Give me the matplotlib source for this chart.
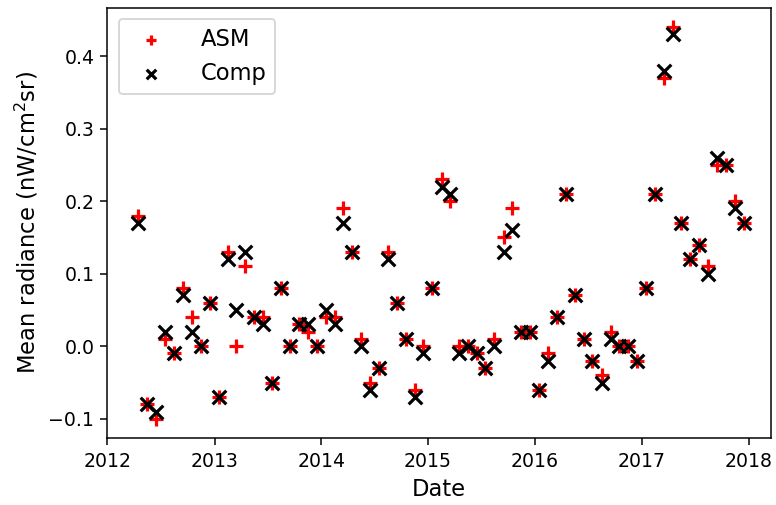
import matplotlib
matplotlib.use("Agg")
import matplotlib.pyplot as plt
import matplotlib.dates as mdates
import numpy as np
import pandas as pd

# Monthly dates Apr 2012 - Dec 2017 (mid-month)
dates = pd.date_range("2012-04-01", "2017-12-01", freq="MS") + pd.Timedelta(days=15)

asm = [0.18, -0.08, -0.10, 0.01, -0.01, 0.08, 0.04, 0.00, 0.06,
       -0.07, 0.13, 0.00, 0.11, 0.04, 0.04, -0.05, 0.08, 0.00, 0.03, 0.02, 0.00,
       0.04, 0.04, 0.19, 0.13, 0.01, -0.05, -0.03, 0.13, 0.06, 0.01, -0.06, 0.00,
       0.08, 0.23, 0.20, 0.00, 0.00, -0.01, -0.03, 0.01, 0.15, 0.19, 0.02, 0.02,
       -0.06, -0.01, 0.04, 0.21, 0.07, 0.01, -0.02, -0.04, 0.02, 0.00, 0.00, -0.02,
       0.08, 0.21, 0.37, 0.44, 0.17, 0.12, 0.14, 0.11, 0.25, 0.25, 0.20, 0.17]

comp = [0.17, -0.08, -0.09, 0.02, -0.01, 0.07, 0.02, 0.00, 0.06,
        -0.07, 0.12, 0.05, 0.13, 0.04, 0.03, -0.05, 0.08, 0.00, 0.03, 0.03, 0.00,
        0.05, 0.03, 0.17, 0.13, 0.00, -0.06, -0.03, 0.12, 0.06, 0.01, -0.07, -0.01,
        0.08, 0.22, 0.21, -0.01, 0.00, -0.01, -0.03, 0.00, 0.13, 0.16, 0.02, 0.02,
        -0.06, -0.02, 0.04, 0.21, 0.07, 0.01, -0.02, -0.05, 0.01, 0.00, 0.00, -0.02,
        0.08, 0.21, 0.38, 0.43, 0.17, 0.12, 0.14, 0.10, 0.26, 0.25, 0.19, 0.17]

DPI = 136
fig = plt.figure(figsize=(776 / DPI, 505 / DPI), dpi=DPI)
ax = fig.add_axes([0.1385, 0.132, 0.8545, 0.853])

ax.scatter(dates, asm, marker="+", color="red", s=52, linewidths=1.7, label="ASM")
ax.scatter(dates, comp, marker="x", color="black", s=52, linewidths=1.7, label="Comp")

ax.set_xlim(pd.Timestamp("2012-01-01"), pd.Timestamp("2018-03-17"))
ax.xaxis.set_major_locator(mdates.YearLocator())
ax.xaxis.set_major_formatter(mdates.DateFormatter("%Y"))
ax.tick_params(labelsize=10)
ax.set_xlabel("Date", fontsize=12)
ax.set_ylabel("Mean radiance (nW/cm$^2$sr)", fontsize=12)
ax.legend(loc="upper left", fontsize=12, markerscale=0.7, handletextpad=1.2)

fig.savefig("out.png", dpi=DPI)
